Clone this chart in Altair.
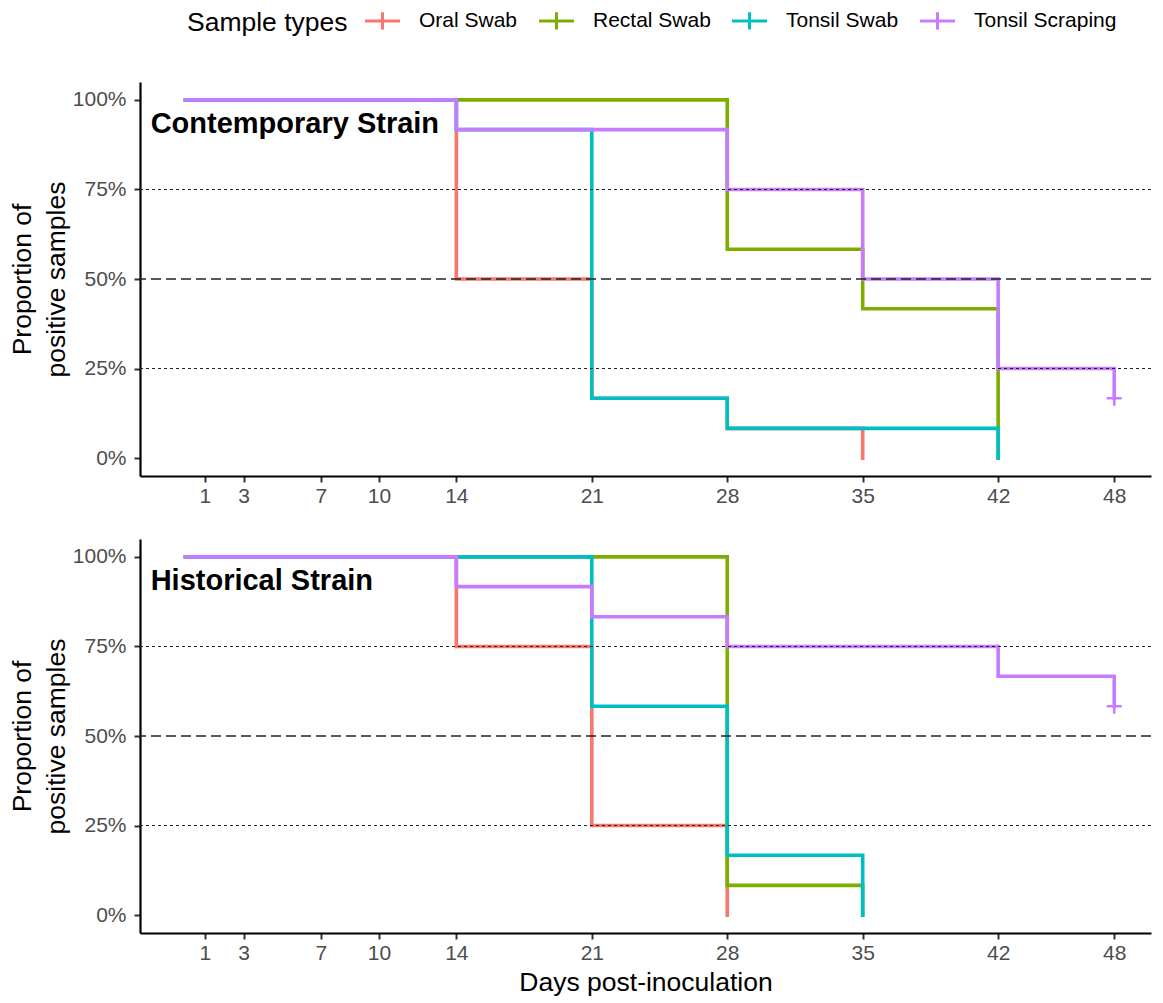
import altair as alt
import pandas as pd

# ---------------- data ----------------
sample_types = ["Oral Swab", "Rectal Swab", "Tonsil Swab", "Tonsil Scraping"]
type_colors = ["#F8766D", "#7CAE00", "#00BFC4", "#C77CFF"]

x_ticks = [1, 3, 7, 10, 14, 21, 28, 35, 42, 48]
y_ticks = [0, 0.25, 0.5, 0.75, 1.0]

# Contemporary strain (step points: day, proportion positive)
cont_oral_days = [0, 14, 21, 28, 35]
cont_oral_prop = [1.0, 0.5, 0.167, 0.083, 0.0]
cont_rectal_days = [0, 28, 35, 42]
cont_rectal_prop = [1.0, 0.583, 0.417, 0.0]
cont_tswab_days = [0, 14, 21, 28, 42]
cont_tswab_prop = [1.0, 0.917, 0.167, 0.083, 0.0]
cont_tscrap_days = [0, 14, 28, 35, 42, 48]
cont_tscrap_prop = [1.0, 0.917, 0.75, 0.5, 0.25, 0.167]
cont_censor_type = ["Tonsil Scraping"]
cont_censor_day = [48]
cont_censor_prop = [0.167]

# Historical strain
hist_oral_days = [0, 14, 21, 28]
hist_oral_prop = [1.0, 0.75, 0.25, 0.0]
hist_rectal_days = [0, 28, 35]
hist_rectal_prop = [1.0, 0.083, 0.0]
hist_tswab_days = [0, 21, 28, 35]
hist_tswab_prop = [1.0, 0.583, 0.167, 0.0]
hist_tscrap_days = [0, 14, 21, 28, 42, 48]
hist_tscrap_prop = [1.0, 0.917, 0.833, 0.75, 0.667, 0.583]
hist_censor_type = ["Tonsil Scraping"]
hist_censor_day = [48]
hist_censor_prop = [0.583]

dotted_refs = [0.25, 0.75]
dashed_refs = [0.5]

panel_labels = ["Contemporary Strain", "Historical Strain"]
label_day = -1.8
label_prop = 0.909

FONT = "Liberation Sans"


def series_frame(parts):
    rows = []
    for name, days, props in parts:
        for d, p in zip(days, props):
            rows.append({"day": d, "prop": p, "type": name})
    return pd.DataFrame(rows)


cont_df = series_frame([
    ("Oral Swab", cont_oral_days, cont_oral_prop),
    ("Rectal Swab", cont_rectal_days, cont_rectal_prop),
    ("Tonsil Swab", cont_tswab_days, cont_tswab_prop),
    ("Tonsil Scraping", cont_tscrap_days, cont_tscrap_prop),
])
hist_df = series_frame([
    ("Oral Swab", hist_oral_days, hist_oral_prop),
    ("Rectal Swab", hist_rectal_days, hist_rectal_prop),
    ("Tonsil Swab", hist_tswab_days, hist_tswab_prop),
    ("Tonsil Scraping", hist_tscrap_days, hist_tscrap_prop),
])
cont_cens = pd.DataFrame({"day": cont_censor_day, "prop": cont_censor_prop, "type": cont_censor_type})
hist_cens = pd.DataFrame({"day": hist_censor_day, "prop": hist_censor_prop, "type": hist_censor_type})

PLUS_LEGEND = "M-2,0H2M0,-1V1"
PLUS_POINT = "M-1,0H1M0,-1V1"

color_enc = alt.Color(
    "type:N",
    scale=alt.Scale(domain=sample_types, range=type_colors),
    sort=sample_types,
    legend=alt.Legend(
        title="Sample types",
        orient="none",
        legendX=47,
        legendY=-72,
        direction="horizontal",
        titleOrient="left",
        symbolType=PLUS_LEGEND,
        symbolSize=306,
        symbolStrokeWidth=3,
        labelOffset=26,
        columnPadding=15,
        titlePadding=24,
    ),
)

W = 1011
H = 394


def panel(df, cens, label, show_xtitle):
    xaxis_kwargs = dict(values=x_ticks, labelPadding=3)
    if show_xtitle:
        xaxis_kwargs["title"] = "Days post-inoculation"
        xaxis_kwargs["titlePadding"] = 6
    else:
        xaxis_kwargs["title"] = None
    x = alt.X("day:Q", scale=alt.Scale(domain=[-2.35, 49.9], nice=False, zero=False),
              axis=alt.Axis(**xaxis_kwargs))
    y = alt.Y("prop:Q", scale=alt.Scale(domain=[-0.05, 1.05], nice=False, zero=False),
              axis=alt.Axis(values=y_ticks, format=".0%", title=["Proportion of", "positive samples"],
                            titlePadding=2, labelPadding=8, titleLineHeight=34))
    layers = []
    for t in sample_types:
        layers.append(
            alt.Chart(df).transform_filter(alt.datum.type == t)
            .mark_line(interpolate="step-after", strokeWidth=3.6, strokeCap="square")
            .encode(x=x, y=y, color=color_enc)
        )
    cens_layer = alt.Chart(cens).mark_point(shape=PLUS_POINT, filled=False, size=225,
                                            strokeWidth=2.6, opacity=1).encode(
        x=x, y=y, color=color_enc)
    dotted = alt.Chart(pd.DataFrame({"prop": dotted_refs})).mark_rule(
        color="#222222", strokeWidth=1.1, strokeDash=[3, 3]).encode(y="prop:Q")
    dashed = alt.Chart(pd.DataFrame({"prop": dashed_refs})).mark_rule(
        color="#222222", strokeWidth=1.6, strokeDash=[10, 5]).encode(y="prop:Q")
    txt = alt.Chart(pd.DataFrame({"day": [label_day], "prop": [label_prop], "label": [label]})).mark_text(
        align="left", baseline="alphabetic", font=FONT, fontSize=29, fontWeight="bold", color="black"
    ).encode(x=x, y=y, text="label:N")
    return alt.layer(*layers, cens_layer, dotted, dashed, txt).properties(width=W, height=H)


top = panel(cont_df, cont_cens, panel_labels[0], False)
bottom = panel(hist_df, hist_cens, panel_labels[1], True)

chart = (
    alt.vconcat(top, bottom, spacing=33)
    .resolve_scale(color="shared")
    .resolve_legend(color="shared")
    .properties(padding={"left": 1, "top": 2, "right": 0, "bottom": 0})
    .configure_view(strokeWidth=0)
    .configure_axis(
        grid=False,
        labelFont=FONT,
        titleFont=FONT,
        labelFontSize=21,
        labelColor="#4D4D4D",
        titleFontSize=26.5,
        titleColor="black",
        titleFontWeight="normal",
        domainColor="black",
        domainWidth=2.2,
        tickColor="#333333",
        tickWidth=2,
        tickSize=6,
    )
    .configure_legend(
        titleFont=FONT,
        labelFont=FONT,
        titleFontSize=26.5,
        labelFontSize=21,
        titleColor="black",
        labelColor="black",
        titleFontWeight="normal",
    )
)

chart.save("out.html", embed_options={"renderer": "svg", "actions": False})
